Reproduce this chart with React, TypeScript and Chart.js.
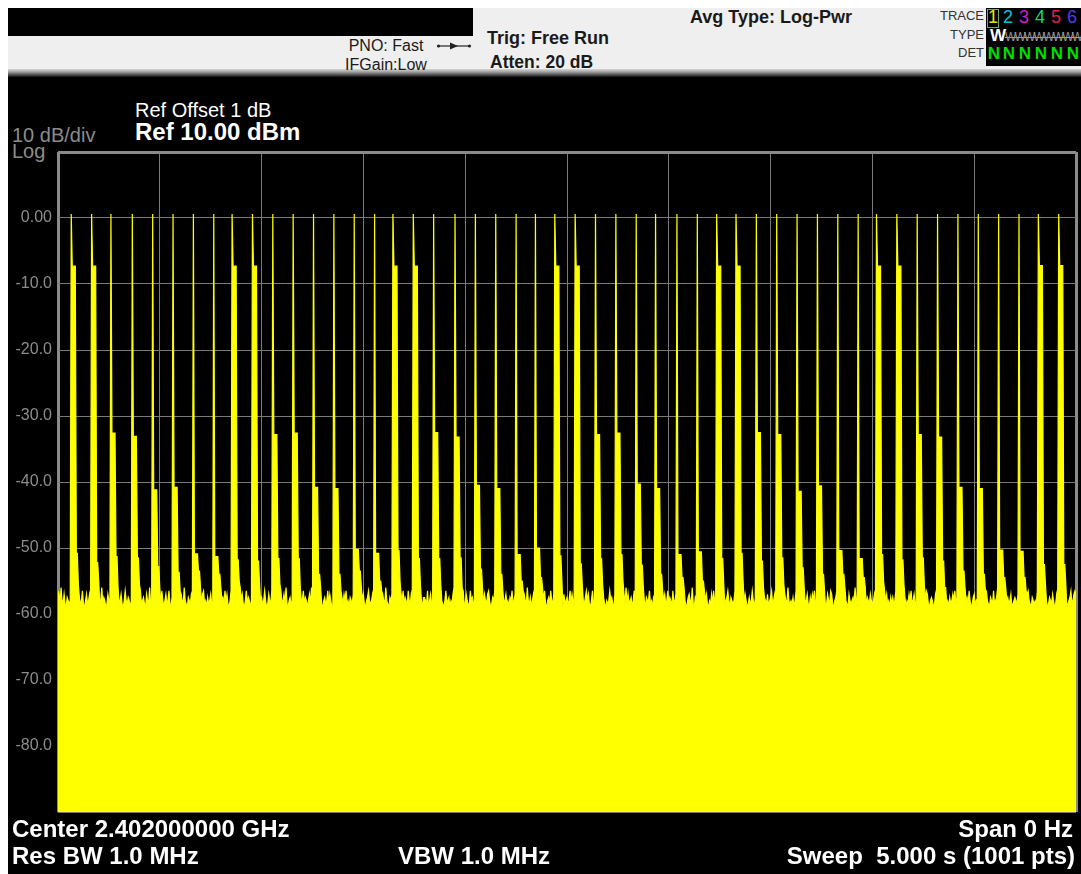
import React, { useEffect, useRef } from "react";
import { Chart, registerables } from "chart.js";

Chart.register(...registerables);

// ---- data (zero-span trace, 1001 points) ----
const spikeIndex = [
  13, 33, 52, 73, 93, 113, 133, 153,
  171, 191, 211, 231, 251, 271, 291, 311,
  329, 349, 369, 390, 410, 430, 450, 469,
  488, 508, 528, 548, 568, 587, 608, 628,
  647, 666, 686, 706, 726, 746, 766, 786,
  804, 824, 844, 864, 884, 904, 924, 944,
  963, 983,
];
const peakLevel = [
  0.6, 0.6, 0.6, 0.6, 0.6, 0.6, 0.6, 0.6,
  0.6, 0.6, 0.6, 0.6, 0.6, 0.6, 0.6, 0.6,
  0.6, 0.6, 0.6, 0.6, 0.6, 0.6, 0.6, 0.6,
  0.6, 0.6, 0.6, 0.6, 0.6, 0.6, 0.6, 0.6,
  0.6, 0.6, 0.6, 0.6, 0.6, 0.6, 0.6, 0.6,
  0.6, 0.6, 0.6, 0.6, 0.6, 0.6, 0.6, 0.6,
  0.6, 0.6,
];
const secondLevel = [
  -7.3, -7.3, -32.6, -33.1, -41.2, -40.8, -50.9, -51.3,
  -7.3, -7.3, -32.8, -32.6, -40.8, -41.0, -50.2, -50.8,
  -7.3, -7.3, -32.5, -33.2, -40.5, -41.0, -51.0, -50.0,
  -7.3, -7.3, -32.8, -32.6, -40.3, -41.0, -51.0, -50.6,
  -7.3, -7.3, -32.5, -32.8, -41.4, -40.6, -50.4, -51.6,
  -7.3, -7.3, -32.8, -33.2, -40.8, -41.0, -50.3, -50.5,
  -7.2, -7.2,
];
const thirdLevel = [
  -50.8, -52.2, -51.3, -51.5, -52.8, -53.7, -53.5, -54,
  -51.8, -52, -51.6, -51.6, -54, -54, -53.5, -55,
  -50.4, -51.6, -51.6, -51.5, -53.2, -54, -55, -54.5,
  -51.2, -52.4, -51.6, -51, -52.6, -54, -54.5, -55,
  -51.6, -50.8, -52, -51.5, -53, -54, -54, -54.5,
  -51, -51.8, -51.5, -52, -53.5, -54, -54.5, -54.5,
  -52.5, -52.5,
];
const tailLevel = [
  -55.5, -55, -56, -55.5, -56, -56.5, -56, -56,
  -55, -55.5, -55.5, -56, -56, -56.5, -56, -56.5,
  -55, -55.5, -55.5, -56, -56, -56.5, -56.5, -56,
  -55, -55.5, -55.5, -55, -56, -56.5, -56, -56.5,
  -55.5, -55, -56, -55.5, -56, -56.5, -56, -56,
  -55, -55.5, -55.5, -56, -56, -56.5, -56, -56.5,
  -55.5, -55.5,
];
const noiseFloor = [
  -56.5,-57,-58.5,-56,-58,-58.5,-57,-58.5,-59,-57.5,-58,-58.5,-58,-56,-58.5,-58,-57,-58.5,-59,-58,
  -58,-57.5,-58.5,-58,-56.5,-58.5,-59,-58,-57,-58.5,-58,-57,-58.5,-56.5,-58,-58.5,-59,-57.5,-58,-58.5,
  -57,-58.5,-58,-56,-58.5,-57.5,-58,-59,-58.5,-57,-58,-58.5,-56.5,-58,-59,-58.5,-57.5,-58,-58.5,-57,
  -58.5,-58,-57,-58.5,-59,-58,-56.5,-58,-58.5,-57.5,-58,-59,-58,-57,-58.5,-56,-58.5,-58,-57.5,-58.5,
  -58,-56.5,-58.5,-58,-57.5,-58.5,-59,-57,-58,-58.5,-56,-58.5,-58,-57.5,-59,-58,-58.5,-57,-58,-58.5,
  -57.5,-58.5,-56.5,-58,-59,-58,-57,-58.5,-58,-56.5,-58.5,-59,-57.5,-58,-58.5,-57,-58,-59,-58.5,-57,
  -58.5,-57,-58,-58.5,-56,-58,-58.5,-59,-57.5,-58,-58.5,-57,-56.5,-58.5,-58,-59,-57.5,-58,-56.5,-58.5,
  -58,-58.5,-57,-56.5,-58.5,-58,-59,-57.5,-58.5,-58,-57,-58.5,-59,-56,-58,-58.5,-57.5,-58,-58.5,-57,
  -59,-58,-57.5,-58.5,-56.5,-58,-57,-58.5,-59,-58,-56.5,-58.5,-58,-57.5,-58.5,-59,-57,-58,-58.5,-56,
  -58,-57,-58.5,-59,-58,-56.5,-58.5,-57.5,-58,-58.5,-59,-57,-58,-56,-58.5,-58,-57.5,-58.5,-59,-58,
  -57.5,-58.5,-58,-56.5,-58,-59,-58.5,-57,-58,-58.5,-56.5,-58,-57.5,-58.5,-59,-58,-57,-58.5,-58,-56.5,
  -58.5,-58,-57,-58.5,-56,-58.5,-59,-58,-57.5,-58.5,-58,-56.5,-58,-59,-58.5,-57,-58,-58.5,-57.5,-58,
  -58,-56.5,-58.5,-57.5,-58,-59,-58,-57,-58.5,-56,-58,-58.5,-59,-57.5,-58,-58.5,-57,-58,-56.5,-58.5,
  -59,-58,-57.5,-58.5,-58,-56.5,-58.5,-57,-58,-59,-58.5,-57.5,-56,-58.5,-58,-57,-58.5,-59,-58,-57.5,
  -58.5,-57,-58,-56.5,-58.5,-58,-59,-57.5,-58,-58.5,-57,-56.5,-58.5,-58,-59,-57.5,-58,-58.5,-56,-58,
  -57,-58.5,-59,-58,-57.5,-56.5,-58,-58.5,-58,-57,-58.5,-59,-56.5,-58,-58.5,-57.5,-58,-59,-58.5,-57,
  -58,-58.5,-56,-58,-58.5,-59,-57.5,-58,-57,-58.5,-56.5,-58,-58.5,-59,-58,-57.5,-58.5,-57,-58,-56.5,
  -58.5,-57.5,-58,-59,-56.5,-58,-58.5,-57,-58,-58.5,-59,-57.5,-56,-58.5,-58,-57,-58.5,-58,-59,-57.5,
  -57.5,-58,-58.5,-56.5,-59,-58,-57,-58.5,-58,-56.5,-58.5,-59,-57.5,-58,-58.5,-57,-56.5,-58,-58.5,-59,
  -58,-56.5,-58.5,-58,-57.5,-59,-58,-58.5,-57,-56,-58.5,-58,-59,-57.5,-58,-58.5,-57,-58,-56.5,-58.5,
  -58.5,-57,-58,-58.5,-59,-56.5,-58,-57.5,-58.5,-58,-57,-58.5,-59,-58,-56,-58.5,-57.5,-58,-58.5,-57,
  -58,-58.5,-57,-56.5,-58,-59,-58.5,-57.5,-58,-56.5,-58.5,-58,-59,-57,-58.5,-58,-57.5,-56,-58.5,-58,
  -57,-58.5,-58,-59,-57.5,-58,-56.5,-58.5,-58,-57,-59,-58.5,-58,-56.5,-57.5,-58.5,-58,-59,-57,-58,
  -58.5,-56,-58,-58.5,-57.5,-59,-58,-57,-58.5,-58,-56.5,-58.5,-57.5,-58,-59,-58.5,-57,-58,-56.5,-58.5,
  -59,-58,-57.5,-58.5,-56.5,-58,-58.5,-57,-58,-59,-58.5,-56,-58,-57.5,-58.5,-58,-59,-57,-58.5,-58,
  -57.5,-58.5,-58,-56.5,-58.5,-57,-58,-59,-58,-57.5,-58.5,-56.5,-58,-58.5,-57,-59,-58,-58.5,-57.5,-56.5,
  -58,-57,-58.5,-59,-58,-56.5,-58.5,-58,-57.5,-58,-59,-58.5,-57,-56,-58.5,-58,-57.5,-58.5,-59,-58,
  -58.5,-58,-56.5,-58,-57.5,-58.5,-59,-57,-58,-58.5,-56.5,-58,-59,-58.5,-57.5,-58,-57,-58.5,-56,-58.5,
  -57,-58.5,-58,-57.5,-59,-58,-56.5,-58.5,-58,-57,-58.5,-59,-57.5,-58,-56.5,-58.5,-58,-59,-57.5,-58,
  -58,-56.5,-58.5,-58,-59,-57.5,-58,-58.5,-57,-56,-58.5,-58,-57.5,-59,-58.5,-58,-57,-58.5,-58,-56.5,
  -58.5,-57.5,-58,-59,-56.5,-58.5,-58,-57,-58.5,-58,-59,-57.5,-56.5,-58,-58.5,-57,-58,-59,-58.5,-57.5,
  -57,-58,-58.5,-56,-58.5,-59,-57.5,-58,-58.5,-57,-56.5,-58.5,-58,-59,-57.5,-58.5,-58,-57,-58.5,-59,
  -58,-58.5,-57,-58.5,-56.5,-58,-59,-58.5,-57.5,-58,-58.5,-56.5,-58,-57,-59,-58.5,-58,-57.5,-56.5,-58,
  -59,-57.5,-58,-58.5,-58,-56.5,-57,-58.5,-59,-58,-57.5,-58.5,-56,-58,-58.5,-57,-58,-59,-58.5,-57.5,
  -58.5,-58,-56.5,-58,-59,-57.5,-58.5,-58,-57,-58.5,-59,-58,-56.5,-58.5,-57.5,-58,-58.5,-57,-59,-58,
  -57.5,-56.5,-58.5,-58,-57,-58.5,-59,-58,-57.5,-58.5,-56.5,-58,-58.5,-59,-57,-58,-58.5,-56,-58,-58.5,
  -58,-58.5,-57.5,-59,-58,-56.5,-58.5,-57,-58,-58.5,-59,-57.5,-58,-56.5,-58.5,-58,-57,-58.5,-59,-57.5,
  -58.5,-57,-58,-56.5,-58.5,-58,-59,-57.5,-58.5,-58,-56,-58.5,-57.5,-58,-59,-58.5,-57,-58,-58.5,-56.5,
  -57,-58.5,-59,-58,-57.5,-56.5,-58,-58.5,-57,-59,-58,-58.5,-57.5,-56.5,-58,-58.5,-59,-57,-58,-58.5,
  -58,-57.5,-58.5,-56,-58,-59,-58.5,-57,-58,-58.5,-57.5,-56.5,-58.5,-58,-59,-57.5,-58,-58.5,-57,-58,
  -58.5,-58,-57,-58.5,-59,-56.5,-58,-58.5,-57.5,-58,-59,-58.5,-56.5,-58,-57,-58.5,-58,-59,-57.5,-58.5,
  -57.5,-58.5,-58,-56.5,-58,-58.5,-59,-57,-58.5,-58,-56,-58.5,-57.5,-59,-58,-58.5,-57,-58,-56.5,-58.5,
  -58,-57,-58.5,-59,-57.5,-58,-56.5,-58.5,-58,-59,-57.5,-58.5,-58,-56.5,-57,-58.5,-59,-58,-57.5,-58,
  -59,-58.5,-57,-58,-56.5,-58.5,-58,-57.5,-59,-58,-58.5,-57,-56,-58.5,-58,-59,-57.5,-58.5,-58,-57,
  -58,-56.5,-58.5,-57.5,-58,-59,-58.5,-57,-58,-56.5,-58.5,-59,-58,-57.5,-58.5,-56.5,-58,-59,-58.5,-57.5,
  -57,-58.5,-58,-59,-56.5,-58,-58.5,-57.5,-58,-59,-57,-58.5,-56.5,-58,-58.5,-59,-57.5,-58,-58.5,-56.5,
  -58.5,-58,-57.5,-56,-58.5,-59,-58,-57,-58.5,-58,-59,-56.5,-58,-57.5,-58.5,-58,-57,-59,-58.5,-58,
  -57.5,-58,-58.5,-57,-59,-58,-56.5,-58.5,-58,-57.5,-58.5,-59,-57,-56.5,-58,-58.5,-59,-57.5,-58,-58.5,
  -58,-58.5,-56.5,-58,-57.5,-59,-58.5,-58,-57,-58.5,-56,-58,-59,-58.5,-57.5,-58,-58.5,-57,-58,-59,
  -58.5,-57,-58,-58.5,-59,-57.5,-56.5,-58,-58.5,-58,-57,-59,-58.5,-58,-57.5,-56.5,-58.5,-58,-57,-56.5,
  -57,
];
const yTickValues = [10, 0, -10, -20, -30, -40, -50, -60, -70, -80, -90];
const yTickLabels = ["", "0.00", "-10.0", "-20.0", "-30.0", "-40.0", "-50.0", "-60.0", "-70.0", "-80.0", ""];

const FONT = "'Liberation Sans', Arial, Helvetica, sans-serif";

function buildTrace() {
  const t = noiseFloor.slice();
  spikeIndex.forEach((idx, k) => {
    t[idx] = peakLevel[k];
    t[idx + 1] = secondLevel[k];
    t[idx + 2] = secondLevel[k];
    t[idx + 3] = secondLevel[k];
    t[idx + 4] = secondLevel[k];
    t[idx + 5] = thirdLevel[k];
    t[idx + 6] = thirdLevel[k];
    t[idx + 7] = tailLevel[k];
  });
  return t.map((y, i) => ({ x: i, y }));
}

type TxtProps = {
  x: number; y: number; s: number; w?: number; c?: string;
  a?: "left" | "right" | "center"; children: React.ReactNode; style?: React.CSSProperties;
};
function Txt({ x, y, s, w = 400, c = "#000", a = "left", children, style }: TxtProps) {
  const base: React.CSSProperties = {
    position: "absolute",
    top: y - s * 0.6,
    lineHeight: `${s * 1.2}px`,
    fontSize: s,
    fontWeight: w,
    color: c,
    fontFamily: FONT,
    whiteSpace: "nowrap",
  };
  if (a === "left") base.left = x;
  else if (a === "right") base.right = 1081 - x;
  else { base.left = x; base.transform = "translateX(-50%)"; }
  return <div style={{ ...base, ...style }}>{children}</div>;
}

function TraceChart() {
  const ref = useRef<HTMLCanvasElement | null>(null);
  useEffect(() => {
    if (!ref.current) return;
    const gridColor = "#7a7a7a";
    const chart = new Chart(ref.current, {
      type: "line",
      data: {
        datasets: [
          {
            data: buildTrace(),
            borderColor: "#ffff00",
            backgroundColor: "#ffff00",
            borderWidth: 1.2,
            pointRadius: 0,
            tension: 0,
            fill: "start",
          },
        ],
      },
      options: {
        animation: false,
        responsive: false,
        parsing: false,
        normalized: true,
        events: [],
        layout: { padding: { left: 0, right: 5, top: 12, bottom: 10 } },
        plugins: { legend: { display: false }, tooltip: { enabled: false } },
        scales: {
          x: {
            type: "linear",
            min: 0,
            max: 1000,
            ticks: { display: false, stepSize: 100 },
            grid: {
              drawTicks: false,
              color: (ctx: any) => (ctx.tick && (ctx.tick.value === 0 || ctx.tick.value === 1000) ? "#8a8a8a" : gridColor),
              lineWidth: (ctx: any) => (ctx.tick && (ctx.tick.value === 0 || ctx.tick.value === 1000) ? 3 : 1),
            },
            border: { display: false },
            afterFit: (s: any) => { s.height = 0; s.paddingLeft = 0; s.paddingRight = 0; },
          },
          y: {
            type: "linear",
            min: -90,
            max: 10,
            ticks: {
              stepSize: 10,
              padding: 6,
              color: "#8c8c8c",
              font: { family: FONT, size: 16 },
              callback: (v: any) => {
                const i = yTickValues.indexOf(Number(v));
                return i >= 0 ? yTickLabels[i] : "";
              },
            },
            grid: {
              drawTicks: false,
              color: (ctx: any) => (ctx.tick && ctx.tick.value === 10 ? "#8a8a8a" : gridColor),
              lineWidth: (ctx: any) => (ctx.tick && ctx.tick.value === 10 ? 3 : 1),
            },
            border: { display: false },
            afterFit: (s: any) => { s.width = 50; s.paddingTop = 0; s.paddingBottom = 0; },
          },
        },
      },
    } as any);
    return () => chart.destroy();
  }, []);
  return (
    <canvas
      ref={ref}
      width={1073}
      height={682}
      style={{ position: "absolute", left: 8, top: 140, width: 1073, height: 682 }}
    />
  );
}

export default function App() {
  const traceColors = ["#e6e600", "#00c8d8", "#d020d0", "#20d070", "#e02050", "#5a3ae0"];
  const traceX = [993, 1008, 1024, 1040, 1056, 1072];
  return (
    <div style={{ position: "absolute", left: 0, top: 0, width: 1081, height: 874, background: "#fff", overflow: "hidden", fontFamily: FONT }}>
      {/* header */}
      <div style={{ position: "absolute", left: 8, top: 8, width: 1073, height: 62, background: "#efefef" }} />
      <div style={{ position: "absolute", left: 8, top: 69, width: 1073, height: 8, background: "linear-gradient(#d8d8d8, #9a9a9a 40%, #111)" }} />
      <div style={{ position: "absolute", left: 8, top: 8, width: 465, height: 28, background: "#000" }} />
      <Txt x={386} y={46} s={16} a="center" c="#1a1a1a">PNO: Fast</Txt>
      <Txt x={386} y={65} s={16} a="center" c="#1a1a1a">IFGain:Low</Txt>
      <svg style={{ position: "absolute", left: 436, top: 41 }} width={36} height={10}>
        <line x1={2} y1={5} x2={34} y2={5} stroke="#222" strokeWidth={1.2} />
        <circle cx={2.5} cy={5} r={1.6} fill="#222" />
        <circle cx={33.5} cy={5} r={1.6} fill="#222" />
        <polygon points="14,1.5 22,5 14,8.5" fill="#222" />
      </svg>
      <Txt x={487} y={39} s={18} w={700} c="#1a1a1a">Trig: Free Run</Txt>
      <Txt x={490} y={62} s={17.5} w={700} c="#1a1a1a">Atten: 20 dB</Txt>
      <Txt x={690} y={18} s={18} w={700} c="#1a1a1a">Avg Type: Log-Pwr</Txt>
      <Txt x={984} y={16} s={13} a="right" c="#333">TRACE</Txt>
      <Txt x={984} y={35} s={13} a="right" c="#333">TYPE</Txt>
      <Txt x={984} y={53} s={13} a="right" c="#333">DET</Txt>
      <div style={{ position: "absolute", left: 986, top: 8, width: 95, height: 58, background: "#000" }} />
      <div style={{ position: "absolute", left: 987, top: 9, width: 12, height: 19, border: "1.5px solid #6aa86a", boxSizing: "border-box" }} />
      {traceColors.map((col, i) => (
        <Txt key={"t" + i} x={traceX[i]} y={18} s={18} a="center" c={col}>{String(i + 1)}</Txt>
      ))}
      <Txt x={990} y={36} s={17} w={700} c="#fff">W</Txt>
      <Txt x={1005} y={37} s={12} c="#9a9a9a" style={{ letterSpacing: -1.8, textDecoration: "line-through" }}>WWWWWWWWW</Txt>
      {traceX.map((x, i) => (
        <Txt key={"n" + i} x={x + 1} y={54} s={17} w={700} a="center" c="#00dd00">N</Txt>
      ))}
      {/* main black screen */}
      <div style={{ position: "absolute", left: 8, top: 77, width: 1073, height: 797, background: "#000" }} />
      <Txt x={135} y={110} s={20} c="#fff">Ref Offset 1 dB</Txt>
      <Txt x={135} y={132} s={24} w={700} c="#fff">Ref 10.00 dBm</Txt>
      <Txt x={12} y={135} s={20} c="#8c8c8c">10 dB/div</Txt>
      <Txt x={12} y={151} s={20} c="#8c8c8c">Log</Txt>
      <TraceChart />
      {/* footer */}
      <Txt x={12} y={829} s={24} w={700} c="#fff">Center 2.402000000 GHz</Txt>
      <Txt x={1073} y={829} s={24} w={700} a="right" c="#fff">Span 0 Hz</Txt>
      <Txt x={12} y={856} s={24} w={700} c="#fff">Res BW 1.0 MHz</Txt>
      <Txt x={398} y={856} s={24} w={700} c="#fff">VBW 1.0 MHz</Txt>
      <Txt x={1075} y={856} s={24} w={700} a="right" c="#fff" style={{ whiteSpace: "pre" }}>{"Sweep  5.000 s (1001 pts)"}</Txt>
    </div>
  );
}
